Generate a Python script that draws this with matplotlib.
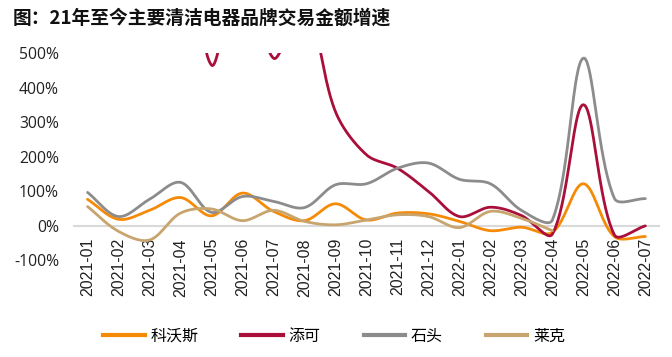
import numpy as np
import matplotlib
matplotlib.use("Agg")
import matplotlib.pyplot as plt
from matplotlib.lines import Line2D

months = ["2021-01", "2021-02", "2021-03", "2021-04", "2021-05", "2021-06",
          "2021-07", "2021-08", "2021-09", "2021-10", "2021-11", "2021-12",
          "2022-01", "2022-02", "2022-03", "2022-04", "2022-05", "2022-06",
          "2022-07"]

# growth rates in %
ecovacs = [76, 18, 44, 81, 28, 94, 41, 14, 63, 16, 36, 34, 12, -15, -5, -20, 121, -32, -32]
tineco = [900, 1000, 1100, 1000, 465, 800, 485, 650, 330, 205, 166, 99, 26, 53, 29, -25, 350, -27, -1]
roborock = [96, 26, 76, 125, 38, 84, 70, 52, 118, 121, 166, 181, 134, 121, 44, 16, 485, 79, 78]
kingclean = [55, -17, -42, 36, 48, 14, 44, 12, 2, 16, 31, 26, -6, 41, 21, -15, np.nan, np.nan, np.nan]

series_names = ["科沃斯", "添可", "石头", "莱克"]
series_values = [ecovacs, tineco, roborock, kingclean]
colors = ["#F58A07", "#A90F3A", "#8C8C8C", "#C8A46E"]

y_ticks = [-100, 0, 100, 200, 300, 400, 500]
y_tick_labels = ["-100%", "0%", "100%", "200%", "300%", "400%", "500%"]
title = "图：21年至今主要清洁电器品牌交易金额增速"

# approximate screen scale (pixels per x unit / per y unit) used for smoothing
SX, SY = 31.0, 0.345


def smooth(xs, ys, n=40):
    """Excel-like smoothed line: Bezier with tangents split by segment length."""
    xs = np.asarray(xs, float)
    ys = np.asarray(ys, float)
    m = ~np.isnan(ys)
    xs, ys = xs[m], ys[m]
    P = np.column_stack([xs * SX, ys * SY])
    N = len(P)
    cin = P.copy()
    cout = P.copy()
    for i in range(N):
        p0 = P[i - 1] if i > 0 else P[i]
        p2 = P[i + 1] if i < N - 1 else P[i]
        T = p2 - p0
        d_in = np.linalg.norm(P[i] - p0)
        d_out = np.linalg.norm(p2 - P[i])
        tot = d_in + d_out
        if tot == 0:
            continue
        cin[i] = P[i] - T * (d_in / tot) / 3.0
        cout[i] = P[i] + T * (d_out / tot) / 3.0
    t = np.linspace(0, 1, n)[:, None]
    out = []
    for i in range(N - 1):
        p1, c1, c2, p2 = P[i], cout[i], cin[i + 1], P[i + 1]
        seg = (1 - t) ** 3 * p1 + 3 * (1 - t) ** 2 * t * c1 + 3 * (1 - t) * t ** 2 * c2 + t ** 3 * p2
        out.append(seg if i == 0 else seg[1:])
    pts = np.vstack(out)
    return pts[:, 0] / SX, pts[:, 1] / SY


fig = plt.figure(figsize=(6.72, 3.57), dpi=100)
ax = fig.add_axes([0.1086, 0.2717, 0.8734, 0.5798])
ax.spines["bottom"].set_position(("data", 0))

x = np.arange(len(months))
ax.axhline(0, color="#D9D9D9", lw=1.5, zorder=1)

handles = []
for name, vals, c in zip(series_names, series_values, colors):
    sx, sy = smooth(x, vals)
    ax.plot(sx, sy, color=c, lw=2.0, solid_capstyle="round", zorder=3)
    handles.append(Line2D([0], [0], color=c, lw=3, label=name))

ax.set_xlim(-0.47, len(months) - 1 + 0.47)
ax.set_ylim(-100, 500)
ax.set_yticks(y_ticks)
ax.set_yticklabels(y_tick_labels, fontfamily="Open Sans", fontsize=11.3, color="#222222")
ax.set_xticks(x)
ax.set_xticklabels(months, rotation=90, fontfamily="Liberation Sans", fontsize=11.5, color="#222222")
ax.tick_params(axis="both", length=0)
ax.tick_params(axis="y", pad=10)
ax.tick_params(axis="x", pad=9)
for s in ax.spines.values():
    s.set_visible(False)

fig.text(0.019, 0.95, title, fontfamily="Noto Sans CJK SC", fontweight="bold",
         fontsize=13.5, va="center", ha="left", color="#111111")

leg = fig.legend(handles=handles, loc="center", bbox_to_anchor=(0.497, 0.058), ncol=4,
                 frameon=False, prop={"family": "Noto Sans CJK SC", "size": 11.5},
                 handlelength=2.6, columnspacing=2.7, handletextpad=0.35)

fig.savefig("out.png", dpi=100)
